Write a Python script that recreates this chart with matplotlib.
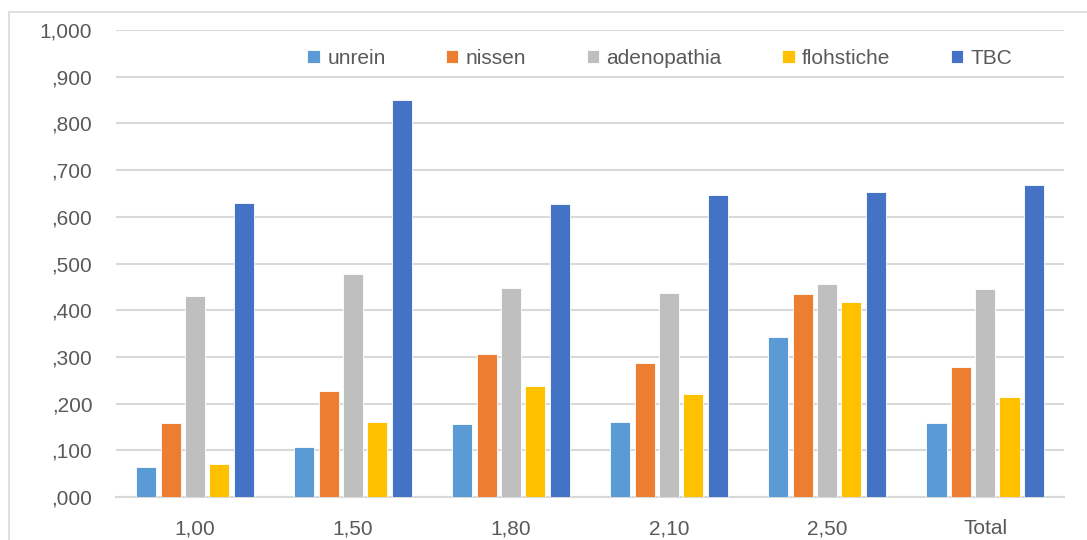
import matplotlib.pyplot as plt
import numpy as np
from matplotlib.patches import Rectangle

categories = ["1,00", "1,50", "1,80", "2,10", "2,50", "Total"]
series = ["unrein", "nissen", "adenopathia", "flohstiche", "TBC"]
unrein = [0.064, 0.107, 0.156, 0.161, 0.343, 0.158]
nissen = [0.158, 0.227, 0.306, 0.287, 0.435, 0.278]
adenopathia = [0.430, 0.478, 0.448, 0.437, 0.456, 0.445]
flohstiche = [0.071, 0.161, 0.238, 0.221, 0.418, 0.214]
tbc = [0.630, 0.850, 0.627, 0.647, 0.653, 0.668]
yticks = [0.0, 0.1, 0.2, 0.3, 0.4, 0.5, 0.6, 0.7, 0.8, 0.9, 1.0]
ytick_labels = [",000", ",100", ",200", ",300", ",400", ",500", ",600", ",700", ",800", ",900", "1,000"]

colors = ["#5B9BD5", "#ED7D31", "#BFBFBF", "#FFC000", "#4472C4"]
values = [unrein, nissen, adenopathia, flohstiche, tbc]

plt.rcParams['font.family'] = ['Liberation Sans', 'DejaVu Sans']

fig = plt.figure(figsize=(10.87, 5.4), dpi=100)
ax = fig.add_axes([0.1067, 0.0796, 0.8723, 0.8648])

# light frame around the chart area
fig.patches.append(Rectangle((9 / 1087, -0.05), 1.2, 0.05 + 1 - 12 / 540,
                             transform=fig.transFigure, fill=False,
                             edgecolor="#d9d9d9", linewidth=1.2))

x = np.arange(len(categories))
step = 0.154
width = 0.127
for i, (name, vals, c) in enumerate(zip(series, values, colors)):
    ax.bar(x + (i - 2) * step, vals, width, color=c, label=name,
           edgecolor="white", linewidth=0.6, zorder=3)

ax.set_xlim(-0.5, len(categories) - 0.5)
ax.set_ylim(0, 1.0)
ax.set_yticks(yticks)
ax.set_yticklabels(ytick_labels)
ax.set_xticks(x)
ax.set_xticklabels(categories)
ax.tick_params(axis="both", length=0, labelsize=15, labelcolor="#595959")
ax.tick_params(axis="y", pad=17)
ax.tick_params(axis="x", pad=16)
ax.grid(axis="y", color="#d9d9d9", linewidth=1.5, zorder=0)
for s in ["top", "right", "left"]:
    ax.spines[s].set_visible(False)
ax.spines["bottom"].set_color("#d9d9d9")
ax.spines["bottom"].set_linewidth(1.5)

fig.legend(loc="center", bbox_to_anchor=(0.607, 0.892), ncol=5, frameon=False,
           fontsize=15, labelcolor="#595959", handlelength=0.6, handleheight=0.6,
           handletextpad=0.35, columnspacing=2.9)

fig.savefig("out.png", dpi=100)
